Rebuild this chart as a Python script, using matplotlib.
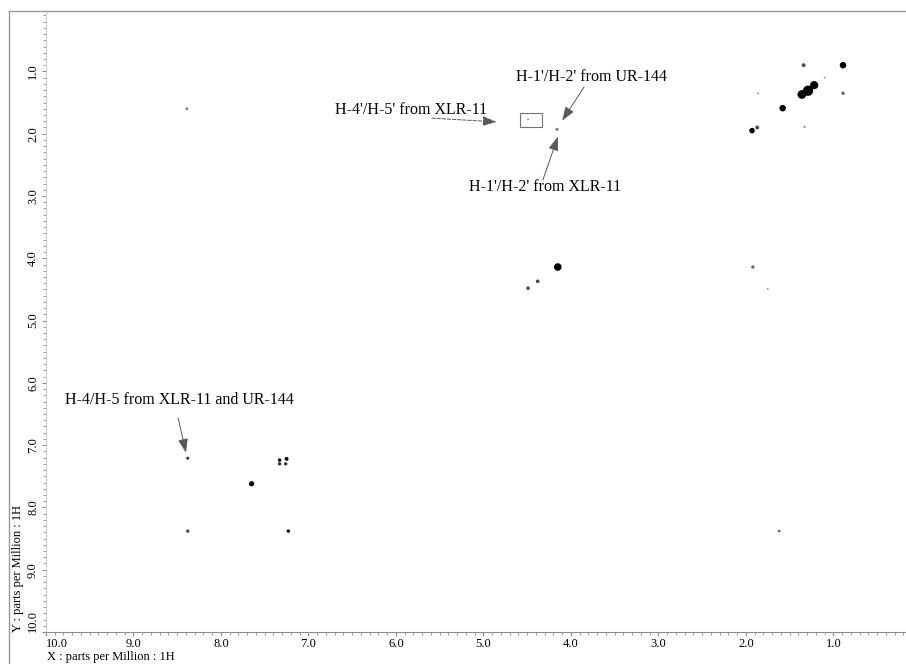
import matplotlib.pyplot as plt
from matplotlib.patches import Rectangle
from matplotlib.lines import Line2D
from matplotlib.ticker import MultipleLocator, FixedLocator

plt.rcParams['font.family'] = ['Liberation Serif', 'DejaVu Serif']

# cross peaks (ppm, F2 = x, F1 = y), marker size in pt^2
peak_x = [0.89, 1.34, 1.36, 1.29, 1.22, 0.89, 1.58, 1.93, 1.87, 1.33, 1.86, 1.10,
          8.39, 4.49, 4.16, 4.15, 4.38, 4.49, 1.92, 1.75,
          8.38, 7.33, 7.25, 7.33, 7.26, 7.65, 8.38, 7.23, 1.62]
peak_y = [0.90, 0.90, 1.37, 1.31, 1.22, 1.35, 1.59, 1.95, 1.90, 1.89, 1.35, 1.10,
          1.60, 1.77, 1.93, 4.14, 4.37, 4.48, 4.14, 4.49,
          7.21, 7.24, 7.22, 7.30, 7.30, 7.62, 8.38, 8.38, 8.38]
peak_size = [22, 8, 40, 55, 35, 6, 22, 16, 8, 3, 2, 2,
             4, 2, 5, 30, 7, 7, 6, 2,
             5, 6, 8, 6, 6, 14, 6, 6, 4]
peak_shade = ['k', '0.3', 'k', 'k', 'k', '0.4', 'k', 'k', '0.3', '0.6', '0.6', '0.6',
              '0.5', '0.6', '0.5', 'k', '0.3', '0.3', '0.4', '0.6',
              '0.2', 'k', 'k', '0.2', '0.2', 'k', '0.3', 'k', '0.4']

# annotations: label, text centre, arrow start, arrow tip (ppm)
labels = ["H-1'/H-2' from UR-144", "H-4'/H-5' from XLR-11",
          "H-1'/H-2' from XLR-11", "H-4/H-5 from XLR-11 and UR-144"]
text_x = [3.77, 5.83, 4.30, 8.47]
text_y = [1.09, 1.62, 2.85, 6.27]
start_x = [3.85, 5.59, 4.32, 8.49]
start_y = [1.25, 1.75, 2.74, 6.56]
tip_x = [4.10, 4.85, 4.15, 8.40]
tip_y = [1.79, 1.81, 2.05, 7.12]
arrow_ls = ['-', '--', '-', '-']

# box around H-4'/H-5' peak
box_x = [4.58, 4.33]
box_y = [1.67, 1.90]

ticks = [10, 9, 8, 7, 6, 5, 4, 3, 2, 1]

fig = plt.figure(figsize=(9.06, 6.64), dpi=100)
ax = fig.add_axes([46/906, 32/664, 860/906, 621/664])

ax.scatter(peak_x, peak_y, s=peak_size, c=peak_shade, marker='o', linewidths=0)

ax.add_patch(Rectangle((box_x[0], box_y[0]), box_x[1]-box_x[0], box_y[1]-box_y[0],
                       fill=False, edgecolor='0.45', linewidth=0.8))

for i in range(len(labels)):
    ax.text(text_x[i], text_y[i], labels[i], fontsize=11.5, ha='center', va='center')
    ax.annotate('', xy=(tip_x[i], tip_y[i]), xytext=(start_x[i], start_y[i]),
                arrowprops=dict(arrowstyle='-|>,head_length=0.7,head_width=0.25',
                                color='0.35', lw=0.7, ls=arrow_ls[i],
                                shrinkA=0, shrinkB=0, mutation_scale=12,
                                facecolor='k'))

ax.set_xlim(10.0, 0.17)
ax.set_ylim(10.0, 0.03)

ax.xaxis.set_major_locator(FixedLocator(ticks))
ax.yaxis.set_major_locator(FixedLocator(ticks))
ax.xaxis.set_minor_locator(MultipleLocator(0.1))
ax.yaxis.set_minor_locator(MultipleLocator(0.1))
ax.set_xticklabels(['%.1f' % v for v in ticks])
ax.set_yticklabels(['%.1f' % v for v in ticks], rotation=90, va='center')
ax.tick_params(which='both', labelsize=9, color='0.55', direction='out')
ax.tick_params(axis='x', pad=1.0)
ax.tick_params(axis='y', pad=2.0)
ax.tick_params(which='major', length=3)
ax.tick_params(which='minor', length=2)
ax.get_xticklabels()[0].set_ha('left')
ax.get_yticklabels()[0].set_va('bottom')

for side in ['top', 'right']:
    ax.spines[side].set_visible(False)
ax.spines['left'].set_color('0.8')
ax.spines['bottom'].set_color('0.55')
ax.spines['left'].set_linewidth(0.8)
ax.spines['bottom'].set_linewidth(0.8)

fig.text(47/906, 1 - 657/664, 'X : parts per Million : 1H', fontsize=9,
         ha='left', va='center')
fig.text(18/906, 32/664, 'Y : parts per Million : 1H', fontsize=9,
         rotation=90, ha='center', va='bottom')

# outer frame
fig.add_artist(Line2D([9/906, 9/906], [0, 1 - 11/664], color='0.6', lw=1))
fig.add_artist(Line2D([9/906, 1], [1 - 11/664, 1 - 11/664], color='0.6', lw=1))

fig.savefig('out.png', dpi=100)
